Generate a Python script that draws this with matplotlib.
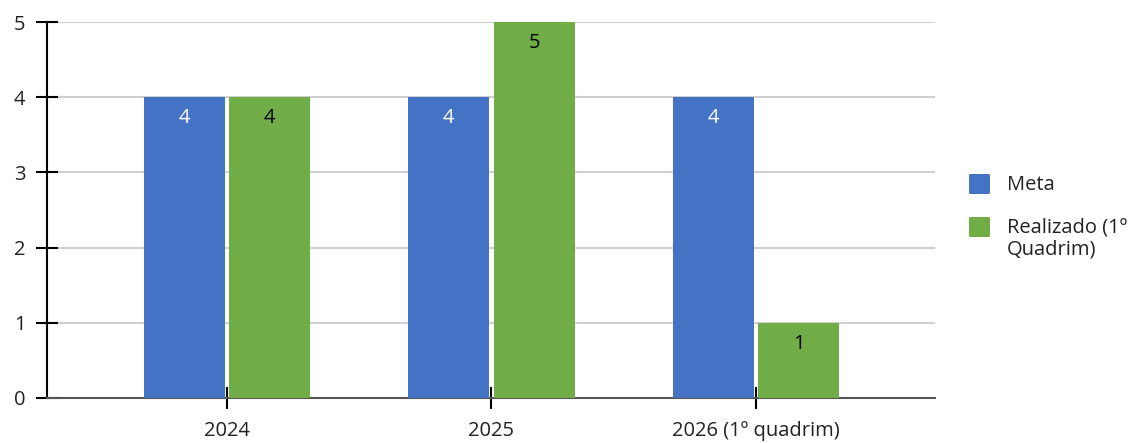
import numpy as np
import matplotlib
matplotlib.use("Agg")
import matplotlib.pyplot as plt
from matplotlib.patches import FancyBboxPatch

plt.rcParams['font.family'] = ['Open Sans', 'DejaVu Sans']

categories = ["2024", "2025", "2026 (1º quadrim)"]
meta = [4, 4, 4]
realizado = [4, 5, 1]
series_names = ["Meta", "Realizado (1º\nQuadrim)"]
blue = "#4472C4"
green = "#70AD47"

W, H = 1135, 443
fig = plt.figure(figsize=(W / 100, H / 100), dpi=100)
ax = fig.add_axes([0.0411, 0.1016, 0.8238 - 0.0411, 0.9503 - 0.1016])

x = np.arange(len(categories))
w = 0.307
off = 0.162
b1 = ax.bar(x - off, meta, w, color=blue, zorder=3)
b2 = ax.bar(x + off, realizado, w, color=green, zorder=3)

for rect, v in zip(b1, meta):
    ax.annotate(str(v), (rect.get_x() + rect.get_width() / 2, v),
                xytext=(0, -15), textcoords="offset points",
                ha="center", va="center", color="white", fontsize=14.5, zorder=4)
for rect, v in zip(b2, realizado):
    ax.annotate(str(v), (rect.get_x() + rect.get_width() / 2, v),
                xytext=(0, -15), textcoords="offset points",
                ha="center", va="center", color="black", fontsize=14.5, zorder=4)

ax.set_xlim(-0.682, 2.677)
ax.set_ylim(0, 5)
ax.set_yticks(range(6))
ax.set_xticks(x)
ax.set_xticklabels(categories)

ax.grid(axis="y", color="#d0d0d0", lw=1.5, zorder=0)
for s in ["top", "right"]:
    ax.spines[s].set_visible(False)
ax.spines["left"].set_color("black")
ax.spines["left"].set_linewidth(1.5)
ax.spines["bottom"].set_color("#555555")
ax.spines["bottom"].set_linewidth(1.5)

ax.tick_params(axis="y", direction="inout", length=16.5, width=1.5, color="black",
               labelsize=14.5, labelcolor="#222222", pad=7)
ax.tick_params(axis="x", direction="inout", length=16.5, width=1.5, color="black",
               labelsize=14.5, labelcolor="#222222", pad=8)

# legend drawn by hand so the green square lines up with the first text line
for i, (name, col) in enumerate(zip(series_names, [blue, green])):
    cy = 184 + 43 * i
    sq = FancyBboxPatch(((968 + 1) / W, 1 - (cy + 10) / H), 21 / W, 20 / H,
                        boxstyle="round,pad=0,rounding_size=0.002",
                        transform=fig.transFigure, facecolor=col, edgecolor="none")
    fig.add_artist(sq)
    fig.text(1007 / W, 1 - (cy - 9) / H, name, fontsize=14.5, color="#222222",
             va="top", ha="left", linespacing=1.12)

fig.savefig("out.png", dpi=100)
